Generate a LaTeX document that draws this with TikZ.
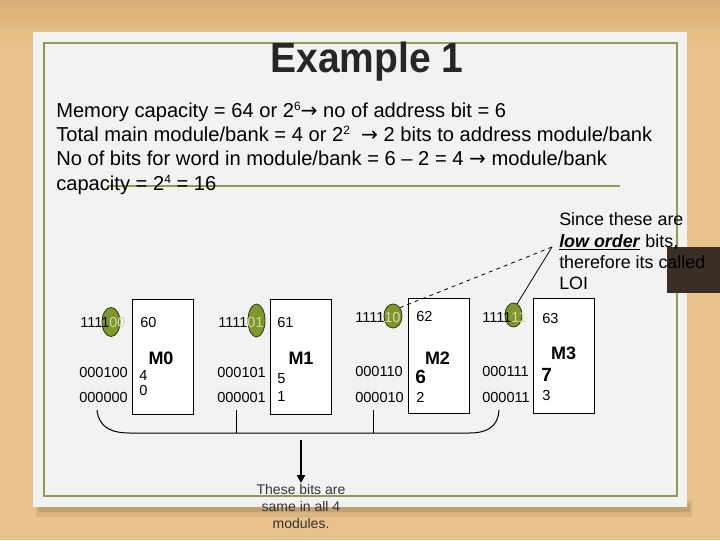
\documentclass[tikz,border=0pt]{standalone}
\usepackage{fontspec}
\setmainfont{Liberation Sans}
\newfontfamily\arrowfont{DejaVu Sans}
\usetikzlibrary{arrows.meta,shapes.geometric}
\definecolor{wood}{HTML}{E8C28A}
\definecolor{woodtop}{HTML}{DAAE78}
\definecolor{paper}{HTML}{F2F2F0}
\definecolor{olive}{HTML}{8C9B55}
\definecolor{ellfill}{HTML}{7E962B}
\definecolor{elldraw}{HTML}{2E3A12}
\definecolor{pale}{HTML}{D2DCA6}
\definecolor{darkbox}{HTML}{3A2F27}
\definecolor{titlegray}{HTML}{262626}
\definecolor{notegray}{HTML}{333333}
\newcommand{\supnum}[1]{\raisebox{0.62ex}{\fontsize{9}{10}\selectfont #1}}
\begin{document}
\begin{tikzpicture}[x=0.75pt, y=-0.75pt,
  digits/.style={font=\fontsize{10.9}{12}\selectfont, inner sep=0pt, anchor=west},
  modbox/.style={draw, fill=white, line width=0.75pt, minimum width=45.75pt, minimum height=86.25pt, inner sep=0pt},
  modname/.style={font=\fontsize{13.5}{16}\selectfont\bfseries, inner sep=0pt},
  bignum/.style={font=\fontsize{14.3}{17}\selectfont\bfseries, inner sep=0pt, anchor=west},
  lowbit/.style={ellipse, fill=ellfill, draw=elldraw, line width=0.6pt, inner sep=0pt},
  bodytext/.style={font=\fontsize{15.1}{18}\selectfont, anchor=base west, inner sep=0pt},
  calltext/.style={font=\fontsize{13.4}{16}\selectfont, anchor=base west, inner sep=0pt},
  brace/.style={line width=0.75pt},
]
\useasboundingbox (0,0) rectangle (720,540);
% background wood
\fill[wood] (0,0) rectangle (720,540);
\shade[top color=woodtop, bottom color=wood] (0,0) rectangle (720,45);
% paper shadow
\fill[black, opacity=0.07] (36,500) rectangle (692,517);
\fill[black, opacity=0.10] (38,503) rectangle (690,512);
% paper
\fill[paper] (33,32) rectangle (687,507);
\draw[olive, line width=1.9pt] (44,43) rectangle (677,496);

% title
\node[font=\fontsize{29.25}{35}\selectfont\bfseries, text=titlegray, anchor=base, inner sep=0pt, yscale=1.08] (title) at (367,72) {Example 1};

% body text
\draw[olive, line width=1.5pt] (107,186) -- (620,186);
\node[bodytext] (l1) at (56,117) {Memory capacity = 64 or 2\supnum{6}{\arrowfont →} no of address bit = 6};
\node[bodytext] (l2) at (56,141.3) {Total main module/bank = 4 or 2\supnum{2}\ \ {\arrowfont →} 2 bits to address module/bank};
\node[bodytext] (l3) at (56,165.6) {No of bits for word in module/bank = 6 -- 2 = 4 {\arrowfont →} module/bank};
\node[bodytext] (l4) at (56,190) {capacity = 2\supnum{4} = 16};

% dark overlay box at right
\fill[darkbox] (667,247) rectangle (720,293);

% callout text
\node[calltext] (c1) at (559,225.5) {Since these are};
\node[calltext] (c2) at (559,247) {\underline{\textbf{\textit{low order}}} bits,};
\node[calltext] (c3) at (559,268) {therefore its called};
\node[calltext] (c4) at (559,289.5) {LOI};
\coordinate (ctip) at (552,247);

% module boxes
\node[modbox] (m0) at (162.5,356.5) {};
\node[modbox] (m1) at (300.5,356.5) {};
\node[modbox] (m2) at (438.5,356) {};
\node[modbox] (m3) at (564,356) {};

% low-order bit ellipses
\node[lowbit, minimum width=13.5pt, minimum height=21.75pt] (e0) at (111,322) {};
\node[lowbit, minimum width=12.75pt, minimum height=24.75pt] (e1) at (256.5,320.5) {};
\node[lowbit, minimum width=13.5pt, minimum height=18pt] (e2) at (393,316) {};
\node[lowbit, minimum width=12.75pt, minimum height=18pt] (e3) at (513.5,315) {};

% addresses, module M0
\node[digits] (a0h) at (80,322) {1111\textcolor{pale}{00}};
\node[digits] (a0m) at (79,372) {000100};
\node[digits] (a0l) at (79,397) {000000};
\node[digits] (v0h) at (140,322) {60};
\node[modname] (n0) at (161,358) {M0};
\node[digits] (v0m) at (139,375) {4};
\node[digits] (v0l) at (139,390) {0};

% module M1
\node[digits] (a1h) at (218,322) {1111\textcolor{pale}{01}};
\node[digits] (a1m) at (217,372) {000101};
\node[digits] (a1l) at (217,397) {000001};
\node[digits] (v1h) at (277,322) {61};
\node[modname] (n1) at (301,358) {M1};
\node[digits] (v1m) at (277,379) {5};
\node[digits] (v1l) at (277,396) {1};

% module M2
\node[digits] (a2h) at (355,317) {1111\textcolor{pale}{10}};
\node[digits] (a2m) at (355,371) {000110};
\node[digits] (a2l) at (355,397) {000010};
\node[digits] (v2h) at (416,316) {62};
\node[modname] (n2) at (437.5,358) {M2};
\node[bignum] (v2m) at (415,377) {6};
\node[digits] (v2l) at (416,397) {2};

% module M3
\node[digits] (a3h) at (482,317) {1111\textcolor{pale}{11}};
\node[digits] (a3m) at (482,371) {000111};
\node[digits] (a3l) at (482,397) {000011};
\node[digits] (v3h) at (542,318) {63};
\node[modname] (n3) at (563.5,353) {M3};
\node[bignum] (v3m) at (541,375) {7};
\node[digits] (v3l) at (542,395) {3};

% callout connectors
\draw[dashed, line width=0.6pt] (ctip) -- (e2.50);
\draw[line width=0.6pt] (ctip) -- (e3.72);

% brace under the low addresses
\coordinate (bl) at (97,410);
\coordinate (br) at (499,410);
\coordinate (t1) at (236,410);
\coordinate (t2) at (373,410);
\draw[brace] (bl) .. controls (99,428) and (112,433) .. (130,433) -- (469,433) .. controls (487,433) and (498,427) .. (br);
\draw[brace] (t1) -- (236,433);
\draw[brace] (t2) -- (373,433);

% arrow and note
\coordinate (astart) at (301,440);
\node[font=\fontsize{10.5}{12.6}\selectfont, text=notegray, align=center, inner sep=0pt] (note) at (301,506.5) {These bits are\\same in all 4\\modules.};
\draw[line width=1.5pt, -{Triangle[length=6pt,width=6pt]}] (astart) -- (301,483);
\end{tikzpicture}
\end{document}
